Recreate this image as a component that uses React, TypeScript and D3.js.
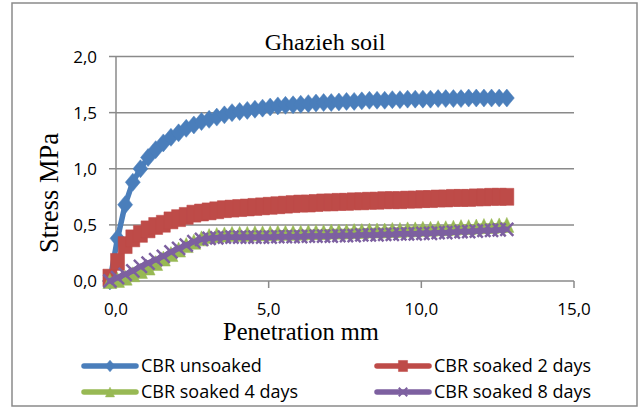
import React from "react";
import * as d3 from "d3";

// penetration (mm)
const penetration = [
  -0.2, 0.05, 0.3, 0.55, 0.8, 1.05, 1.3, 1.55, 1.8, 2.05,
  2.3, 2.55, 2.8, 3.05, 3.3, 3.55, 3.8, 4.05, 4.3, 4.55,
  4.8, 5.05, 5.3, 5.55, 5.8, 6.05, 6.3, 6.55, 6.8, 7.05,
  7.3, 7.55, 7.8, 8.05, 8.3, 8.55, 8.8, 9.05, 9.3, 9.55,
  9.8, 10.05, 10.3, 10.55, 10.8, 11.05, 11.3, 11.55, 11.8, 12.05,
  12.3, 12.55, 12.8,
];

const unsoaked = [
  0.0, 0.38, 0.68, 0.88, 1.0, 1.1, 1.17, 1.23, 1.28, 1.32,
  1.36, 1.39, 1.42, 1.44, 1.46, 1.48, 1.5, 1.51, 1.52, 1.53,
  1.54, 1.55, 1.56, 1.565, 1.57, 1.575, 1.58, 1.585, 1.59, 1.59,
  1.595, 1.6, 1.6, 1.605, 1.61, 1.61, 1.61, 1.615, 1.615, 1.62,
  1.62, 1.62, 1.62, 1.625, 1.625, 1.625, 1.625, 1.63, 1.63, 1.63,
  1.63, 1.63, 1.63,
];

const soaked2 = [
  0.03, 0.17, 0.32, 0.38, 0.42, 0.46, 0.49, 0.51, 0.54, 0.56,
  0.58, 0.6, 0.61, 0.62, 0.63, 0.64, 0.645, 0.65, 0.655, 0.66,
  0.665, 0.67, 0.675, 0.68, 0.685, 0.69, 0.69, 0.695, 0.7, 0.7,
  0.705, 0.705, 0.71, 0.71, 0.715, 0.715, 0.72, 0.72, 0.72, 0.725,
  0.725, 0.73, 0.73, 0.735, 0.735, 0.74, 0.74, 0.74, 0.745, 0.745,
  0.75, 0.75, 0.75,
];

const soaked4 = [
  0.0, 0.01, 0.03, 0.06, 0.09, 0.12, 0.16, 0.2, 0.24, 0.28,
  0.32, 0.35, 0.38, 0.4, 0.41, 0.415, 0.42, 0.42, 0.42, 0.425,
  0.425, 0.425, 0.43, 0.43, 0.43, 0.43, 0.435, 0.435, 0.435, 0.44,
  0.44, 0.44, 0.445, 0.445, 0.45, 0.45, 0.45, 0.455, 0.455, 0.46,
  0.46, 0.465, 0.465, 0.47, 0.47, 0.475, 0.48, 0.48, 0.485, 0.49,
  0.49, 0.495, 0.5,
];

const soaked8 = [
  0.0, 0.03, 0.06, 0.09, 0.13, 0.16, 0.19, 0.22, 0.26, 0.29,
  0.32, 0.35, 0.37, 0.38, 0.385, 0.39, 0.39, 0.39, 0.39, 0.39,
  0.39, 0.39, 0.395, 0.395, 0.395, 0.395, 0.4, 0.4, 0.4, 0.4,
  0.405, 0.405, 0.405, 0.41, 0.41, 0.41, 0.415, 0.415, 0.42, 0.42,
  0.42, 0.425, 0.425, 0.43, 0.43, 0.435, 0.44, 0.44, 0.445, 0.45,
  0.45, 0.455, 0.46,
];

const xTicks = [0, 5, 10, 15];
const yTicks = [0, 0.5, 1, 1.5, 2];

type Marker = "diamond" | "square" | "triangle" | "cross";

const series: { label: string; values: number[]; color: string; marker: Marker }[] = [
  { label: "CBR unsoaked", values: unsoaked, color: "#4a7ebb", marker: "diamond" },
  { label: "CBR soaked 2 days", values: soaked2, color: "#be4b48", marker: "square" },
  { label: "CBR soaked 4 days", values: soaked4, color: "#98b954", marker: "triangle" },
  { label: "CBR soaked 8 days", values: soaked8, color: "#7d60a0", marker: "cross" },
];

const W = 641;
const H = 407;
const sans = "'Open Sans', 'DejaVu Sans', sans-serif";
const serif = "'Liberation Serif', 'Times New Roman', serif";
const grey = "#8a8a8a";

// marker outline around (cx, cy), s = scale factor
function markerPath(type: Marker, cx: number, cy: number, s = 1) {
  const p = d3.path();
  if (type === "diamond") {
    const w = 7.5 * s, h = 9 * s;
    p.moveTo(cx, cy - h);
    p.lineTo(cx + w, cy);
    p.lineTo(cx, cy + h);
    p.lineTo(cx - w, cy);
    p.closePath();
  } else if (type === "square") {
    const w = 7 * s, h = 8.5 * s;
    p.rect(cx - w, cy - h, 2 * w, 2 * h);
  } else if (type === "triangle") {
    const w = 7 * s, h = 7.5 * s;
    p.moveTo(cx, cy - h);
    p.lineTo(cx + w, cy + h);
    p.lineTo(cx - w, cy + h);
    p.closePath();
  } else {
    const w = 6.5 * s;
    p.moveTo(cx - w, cy - w);
    p.lineTo(cx + w, cy + w);
    p.moveTo(cx + w, cy - w);
    p.lineTo(cx - w, cy + w);
  }
  return p.toString();
}

const fmt = (v: number) => d3.format(".1f")(v).replace(".", ",");

export default function App() {
  const x = d3.scaleLinear().domain([0, 15]).range([116, 574]);
  const y = d3.scaleLinear().domain([0, 2]).range([281, 56.5]);

  const line = d3
    .line<number>()
    .x((_, i) => x(penetration[i]))
    .y((d) => y(d));

  const legendPos = [
    { lx: 84, ty: 366 },
    { lx: 377, ty: 366 },
    { lx: 84, ty: 392 },
    { lx: 377, ty: 392 },
  ];

  return (
    <svg
      width={W}
      height={H}
      style={{ position: "absolute", left: 0, top: 0, background: "#fff" }}
    >
      <rect x={12} y={3} width={625} height={403} fill="#fff" stroke={grey} strokeWidth={1.5} />

      {/* title */}
      <text x={325} y={50} textAnchor="middle" fontFamily={serif} fontSize={24} fill="#000">
        Ghazieh soil
      </text>

      {/* gridlines */}
      {yTicks.slice(1).map((t) => (
        <line key={t} x1={x(0)} x2={x(15)} y1={y(t)} y2={y(t)} stroke={grey} strokeWidth={1.5} />
      ))}

      {/* y axis */}
      <line x1={x(0)} x2={x(0)} y1={y(0)} y2={y(2)} stroke={grey} strokeWidth={1.5} />
      {yTicks.map((t) => (
        <g key={t}>
          <line x1={x(0) - 7} x2={x(0)} y1={y(t)} y2={y(t)} stroke={grey} strokeWidth={1.5} />
          <text x={97} y={y(t)} dy="0.36em" textAnchor="end" fontFamily={sans} fontSize={17} fill="#000">
            {fmt(t)}
          </text>
        </g>
      ))}

      {/* x axis */}
      <line x1={x(0)} x2={x(15)} y1={y(0)} y2={y(0)} stroke={grey} strokeWidth={1.5} />
      {xTicks.map((t) => (
        <g key={t}>
          <line x1={x(t)} x2={x(t)} y1={y(0)} y2={y(0) + 7} stroke={grey} strokeWidth={1.5} />
          <text x={x(t)} y={315} textAnchor="middle" fontFamily={sans} fontSize={17} fill="#000">
            {fmt(t)}
          </text>
        </g>
      ))}

      <text x={301} y={340} textAnchor="middle" fontFamily={serif} fontSize={24.5} fill="#000">
        Penetration mm
      </text>
      <text
        transform="translate(58,193) rotate(-90)"
        textAnchor="middle"
        fontFamily={serif}
        fontSize={26.5}
        fill="#000"
      >
        Stress MPa
      </text>

      {/* series */}
      {series.map((s) => (
        <g key={s.label}>
          <path
            d={line(s.values) ?? ""}
            fill="none"
            stroke={s.color}
            strokeWidth={5.5}
            strokeLinejoin="round"
            strokeLinecap="round"
          />
          {s.values.map((v, i) => (
            <path
              key={i}
              d={markerPath(s.marker, x(penetration[i]), y(v))}
              fill={s.marker === "cross" ? "none" : s.color}
              stroke={s.color}
              strokeWidth={s.marker === "cross" ? 2.5 : 0.5}
            />
          ))}
        </g>
      ))}

      {/* legend */}
      {series.map((s, i) => {
        const { lx, ty } = legendPos[i];
        return (
          <g key={s.label}>
            <line
              x1={lx}
              x2={lx + 52}
              y1={ty}
              y2={ty}
              stroke={s.color}
              strokeWidth={5.5}
              strokeLinecap="round"
            />
            <path
              d={markerPath(s.marker, lx + 26, ty, 0.65)}
              fill={s.marker === "cross" ? "none" : s.color}
              stroke={s.color}
              strokeWidth={s.marker === "cross" ? 2 : 0.5}
            />
            <text x={lx + 57} y={ty} dy="0.36em" fontFamily={sans} fontSize={18} fill="#000">
              {s.label}
            </text>
          </g>
        );
      })}
    </svg>
  );
}
